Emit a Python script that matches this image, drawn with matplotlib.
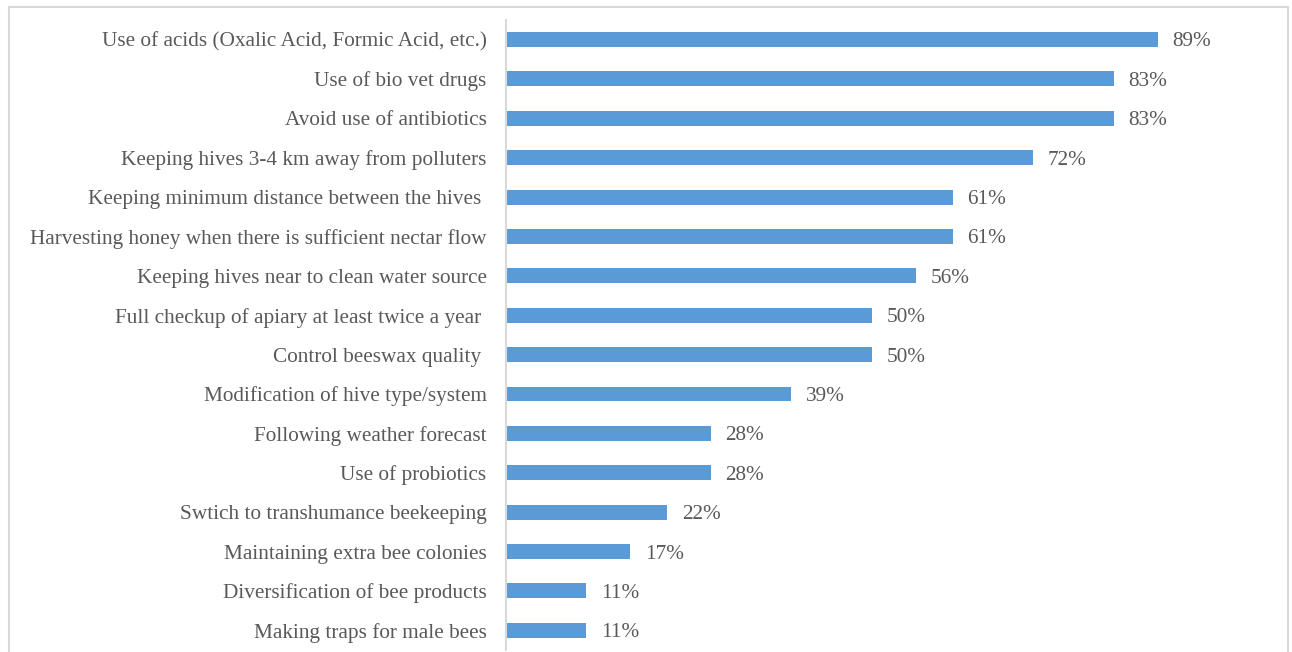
import matplotlib.pyplot as plt
from matplotlib.patches import Rectangle

plt.rcParams['font.family'] = ['Liberation Serif', 'DejaVu Serif']

practices = [
    "Use of acids (Oxalic Acid, Formic Acid, etc.)",
    "Use of bio vet drugs",
    "Avoid use of antibiotics",
    "Keeping hives 3-4 km away from polluters",
    "Keeping minimum distance between the hives ",
    "Harvesting honey when there is sufficient nectar flow",
    "Keeping hives near to clean water source",
    "Full checkup of apiary at least twice a year ",
    "Control beeswax quality ",
    "Modification of hive type/system",
    "Following weather forecast",
    "Use of probiotics",
    "Swtich to transhumance beekeeping",
    "Maintaining extra bee colonies",
    "Diversification of bee products",
    "Making traps for male bees",
]
shares = [89, 83, 83, 72, 61, 61, 56, 50, 50, 39, 28, 28, 22, 17, 11, 11]

text_color = '#595959'
bar_color = '#5b9bd5'

fig = plt.figure(figsize=(12.92, 6.52), dpi=100)
ax = fig.add_axes([0.3916, 0.003, 0.5667, 0.9667])

pos = list(range(len(practices)))
ax.barh(pos, shares, height=0.38, color=bar_color)
ax.set_ylim(len(practices) - 0.5, -0.5)
ax.set_xlim(0, 100)

for y, v in zip(pos, shares):
    ax.text(v + 2.0, y, f"{v}%", va='center_baseline', ha='left',
            fontsize=15.3, color=text_color)

ax.set_yticks(pos)
ax.set_yticklabels(practices, fontsize=15.3, color=text_color)
ax.tick_params(axis='y', length=0, pad=14)
ax.set_xticks([])
for side in ['top', 'right', 'bottom']:
    ax.spines[side].set_visible(False)
ax.spines['left'].set_color('#d9d9d9')
ax.spines['left'].set_linewidth(1.5)

# light frame around the whole chart, open at the bottom edge
fig.patches.append(Rectangle((0.00697, -0.05), 0.98993, 1.0393,
                             transform=fig.transFigure, fill=False,
                             edgecolor='#d9d9d9', linewidth=1.5))

fig.savefig('out.png', dpi=100)
